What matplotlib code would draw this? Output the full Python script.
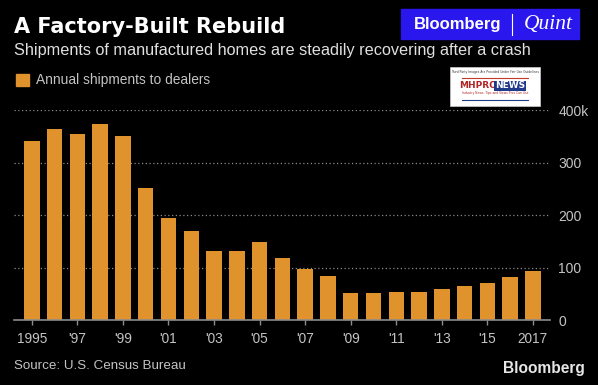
import matplotlib.pyplot as plt
from matplotlib.patches import Rectangle

# annual shipments of manufactured homes to dealers, thousands
years = list(range(1995, 2018))
shipments = [341, 364, 355, 374, 350, 251, 194, 169, 131, 131, 148, 119,
             97, 83, 51, 51, 53, 53, 60, 65, 70, 81, 94]
tick_years = list(range(1995, 2018, 2))
tick_labels = ["1995", "'97", "'99", "'01", "'03", "'05", "'07", "'09",
               "'11", "'13", "'15", "2017"]
y_ticks = [0, 100, 200, 300, 400]
y_labels = ["0", "100", "200", "300", "400k"]

W, H = 598, 385
orange = "#e0922c"
grey = "#c4c4c4"
sans = ["Liberation Sans", "DejaVu Sans"]

fig = plt.figure(figsize=(W / 100, H / 100), dpi=100, facecolor="black")


def fx(x):
    return x / W


def fy(y):
    return 1 - y / H


ax = fig.add_axes([fx(14.3), fy(320), (550 - 14.3) / W, 210 / H])
ax.set_facecolor("black")
ax.bar(years, shipments, width=0.68, color=orange, zorder=3)
ax.set_xlim(1994.23, 2017.75)
ax.set_ylim(0, 400)

ax.set_xticks(tick_years)
ax.set_xticklabels(tick_labels, family=sans, fontsize=9.8, color=grey)
ax.set_yticks(y_ticks)
ax.set_yticklabels(y_labels, family=sans, fontsize=10, color=grey)
ax.yaxis.tick_right()
ax.tick_params(axis="y", length=0, pad=6)
ax.tick_params(axis="x", direction="out", length=3.5, width=1, color="#8c8c8c", pad=5)
ax.grid(axis="y", color="#8a8a8a", linestyle=(0, (1, 2)), linewidth=0.9, zorder=0)

for side in ["top", "left", "right"]:
    ax.spines[side].set_visible(False)
ax.spines["bottom"].set_color("#8c8c8c")
ax.spines["bottom"].set_linewidth(1.2)
ax.spines["bottom"].set_zorder(4)

# header
fig.text(fx(14), fy(27), "A Factory-Built Rebuild", family="DejaVu Sans",
         weight="bold", fontsize=15, color="white", va="center")
fig.text(fx(14), fy(51), "Shipments of manufactured homes are steadily recovering after a crash",
         family=sans, fontsize=11.7, color="#e0e0e0", va="center")
fig.patches.append(Rectangle((fx(16), fy(86)), 13 / W, 12 / H, transform=fig.transFigure,
                             color=orange))
fig.text(fx(36), fy(80), "Annual shipments to dealers", family=sans, fontsize=9.9,
         color=grey, va="center")

# Bloomberg | Quint badge
fig.patches.append(Rectangle((fx(401), fy(39)), 178 / W, 30 / H, transform=fig.transFigure,
                             color="#2a17ee"))
fig.text(fx(458), fy(24), "Bloomberg", family=sans,
         weight="bold", fontsize=12, color="white", ha="center", va="center")
fig.lines.append(plt.Line2D([fx(512), fx(512)], [fy(14), fy(35)], transform=fig.transFigure,
                            color="white", linewidth=0.8))
fig.text(fx(548), fy(24), "Quint", family=["Liberation Serif", "DejaVu Serif"],
         style="italic", fontsize=15.5, color="white", ha="center", va="center")

# watermark
fig.patches.append(Rectangle((fx(450), fy(106)), 90 / W, 39 / H, transform=fig.transFigure,
                             facecolor="white", edgecolor="#cccccc", linewidth=0.5))
fig.text(fx(495), fy(72), "Third Party Images Are Provided Under Fair Use Guidelines",
         fontsize=2.2, color="#333333", ha="center", va="center")
fig.text(fx(478), fy(86), "MHPRO", family="DejaVu Sans", weight="bold", fontsize=6.5,
         color="#b22222", ha="center", va="center")
fig.text(fx(510), fy(86), "NEWS", family="DejaVu Sans", weight="bold", fontsize=6.5,
         color="white", ha="center", va="center",
         bbox=dict(boxstyle="square,pad=0.1", facecolor="#1f3a8a", edgecolor="none"))
fig.text(fx(495), fy(93), "Industry News, Tips and Views Pros Can Use",
         fontsize=2.2, color="#b22222", ha="center", va="center")
fig.lines.append(plt.Line2D([fx(462), fx(528)], [fy(78), fy(78)], transform=fig.transFigure,
                            color="#c0392b", linewidth=0.8))
fig.lines.append(plt.Line2D([fx(462), fx(528)], [fy(100), fy(100)], transform=fig.transFigure,
                            color="#1f3a8a", linewidth=0.8))

# footer
fig.text(fx(14), fy(366), "Source: U.S. Census Bureau", family=sans, fontsize=9.6,
         color=grey, va="center")
fig.text(fx(585), fy(368), "Bloomberg", family=sans,
         weight="bold", fontsize=11.2, color="#e6e6e6", ha="right", va="center")

fig.savefig("out.png", dpi=100, facecolor="black")
